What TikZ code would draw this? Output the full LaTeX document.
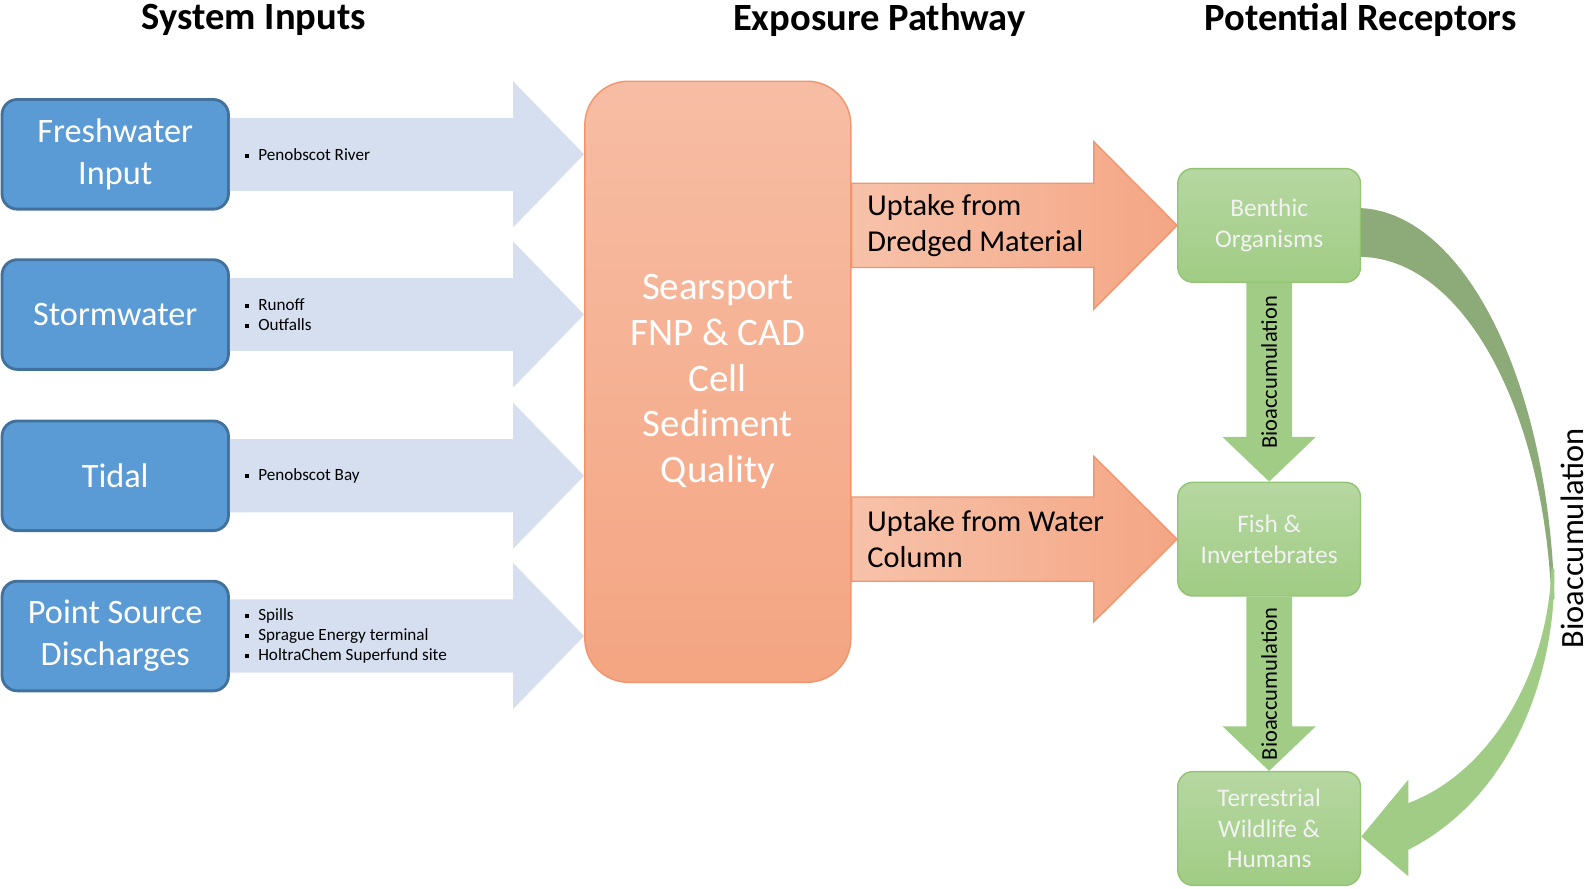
\documentclass[tikz,border=0pt]{standalone}
\usepackage{fontspec}
\setmainfont{Carlito}
\usetikzlibrary{positioning,calc}

\definecolor{inblue}{RGB}{91,155,213}
\definecolor{inedge}{RGB}{65,113,156}
\definecolor{inarrow}{RGB}{214,223,240}
\definecolor{sedtop}{RGB}{247,189,164}
\definecolor{sedbot}{RGB}{244,165,130}
\definecolor{sededge}{RGB}{240,150,110}
\definecolor{uptop}{RGB}{247,194,170}
\definecolor{upbot}{RGB}{244,166,132}
\definecolor{rectop}{RGB}{182,215,161}
\definecolor{recbot}{RGB}{160,204,132}
\definecolor{recedge}{RGB}{146,196,116}
\definecolor{bioarrow}{RGB}{160,204,134}
\definecolor{biodark}{RGB}{141,171,120}

\newcommand\inbul{\rule[0.3ex]{0.5ex}{0.5ex}\hspace{0.55em}}

% block arrow: [style]{start}{tip}{half body}{half head}{head length}
\newcommand\blockarrow[6][]{%
  \coordinate (ba-h) at ($(#3)!#6!(#2)$);
  \path[#1] ($(#2)!#4!90:(#3)$) -- ($(ba-h)!#4!90:(#3)$) -- ($(ba-h)!#5!90:(#3)$)
    -- (#3) -- ($(ba-h)!#5!-90:(#3)$) -- ($(ba-h)!#4!-90:(#3)$) -- ($(#2)!#4!-90:(#3)$) -- cycle;
}

\begin{document}
\begin{tikzpicture}[
  title/.style={font=\fontsize{10.8}{13}\selectfont\bfseries},
  inbox/.style={draw=inedge,line width=0.8pt,fill=inblue,rounded corners=0.15cm,
        minimum width=2.23cm,minimum height=1.08cm,align=center,text=white,
        font=\fontsize{9.6}{11.7}\selectfont},
  inlist/.style={inner sep=0pt,align=left,anchor=west,font=\fontsize{4.8}{5.7}\selectfont},
  inflow/.style={fill=inarrow},
  sedbox/.style={draw=sededge,line width=0.4pt,top color=sedtop,bottom color=sedbot,
        rounded corners=0.43cm,minimum width=2.62cm,minimum height=5.92cm,align=center,
        text=white,font=\fontsize{10.9}{12.8}\selectfont},
  uptake/.style={draw=sededge,line width=0.4pt,left color=uptop,right color=upbot},
  uplabel/.style={inner sep=0pt,anchor=west,align=left,font=\fontsize{8.5}{10}\selectfont},
  recbox/.style={draw=recedge,line width=0.4pt,top color=rectop,bottom color=recbot,
        rounded corners=0.15cm,minimum width=1.80cm,minimum height=1.12cm,align=center,
        text=white!95!black,font=\fontsize{7.1}{8.5}\selectfont},
  bioflow/.style={fill=bioarrow},
  biolabel/.style={rotate=90,inner sep=0pt,font=\fontsize{6.3}{7.5}\selectfont}
]
\useasboundingbox (0,0) rectangle (15.68,-8.75);

% headings
\node[title] (h-in) at (2.50,-0.20) {System Inputs};
\node[title] (h-path) at (8.66,-0.20) {Exposure Pathway};
\node[title] (h-rec) at (13.40,-0.20) {Potential Receptors};

% system inputs
\node[inbox] (fresh) at (1.135,-1.52) {Freshwater\\Input};
\node[inbox,below=0.47cm of fresh] (storm) {Stormwater};
\node[inbox,below=0.48cm of storm] (tidal) {Tidal};
\node[inbox,below=0.47cm of tidal] (point) {Point Source\\Discharges};

% exposure pathway
\node[sedbox] (sed) at (7.07,-3.76) {Searsport\\FNP \& CAD\\Cell\\Sediment\\Quality};

% receptors
\node[recbox] (benthic) at (12.50,-2.22) {Benthic\\Organisms};
\node[recbox] (fish) at (12.50,-5.31) {Fish \&\\Invertebrates};
\node[recbox] (terr) at (12.50,-8.16) {Terrestrial\\Wildlife \&\\Humans};

% input arrows
\foreach \src in {fresh,storm,tidal,point}{
  \coordinate (\src-tip) at (sed.west |- \src);
  \blockarrow[inflow]{\src.east}{\src-tip}{0.36cm}{0.72cm}{0.70cm}
}
\node[inlist,right=0.14cm of fresh] (l-fresh) {\inbul Penobscot River};
\node[inlist,right=0.14cm of storm] (l-storm) {\inbul Runoff\\\inbul Outfalls};
\node[inlist,right=0.14cm of tidal] (l-tidal) {\inbul Penobscot Bay};
\node[inlist,right=0.14cm of point] (l-point) {\inbul Spills\\\inbul Sprague Energy terminal\\\inbul HoltraChem Superfund site};

% uptake arrows
\coordinate (up1) at (sed.east |- benthic);
\coordinate (up2) at (sed.east |- fish);
\blockarrow[uptake]{up1}{benthic.west}{0.415cm}{0.825cm}{0.82cm}
\blockarrow[uptake]{up2}{fish.west}{0.415cm}{0.815cm}{0.82cm}
\node[uplabel,right=0.15cm of up1] (l-up1) {Uptake from\\Dredged Material};
\node[uplabel,right=0.15cm of up2] (l-up2) {Uptake from Water\\Column};

% bioaccumulation
\blockarrow[bioflow]{benthic.south}{fish.north}{0.225cm}{0.46cm}{0.44cm}
\blockarrow[bioflow]{fish.south}{terr.north}{0.225cm}{0.46cm}{0.44cm}
\node[biolabel] (l-bio1) at ($(benthic.south)!0.45!(fish.north)$) {Bioaccumulation};
\node[biolabel] (l-bio2) at ($(fish.south)!0.5!(terr.north)$) {Bioaccumulation};

% curved arrow benthic -> terrestrial
\fill[biodark] ($(benthic.east)+(0,0.17)$) .. controls (14.40,-2.10) and (15.25,-3.70) .. (15.31,-5.90)
  -- (15.28,-5.90) .. controls (15.20,-4.00) and (14.40,-2.55) .. ($(benthic.east)+(0,-0.31)$) -- cycle;
\fill[bioarrow] (15.28,-5.60) -- (15.31,-5.60) .. controls (15.32,-6.80) and (14.80,-7.90) .. (13.87,-8.37)
  -- (13.87,-8.63) -- ($(terr.east)+(0,-0.08)$) -- (13.87,-7.68) -- (13.87,-7.91)
  .. controls (14.70,-7.60) and (15.25,-6.60) .. (15.28,-5.60) -- cycle;
\node[biolabel,font=\fontsize{9.1}{11}\selectfont] (l-bio3) at (15.49,-5.30) {Bioaccumulation};
\end{tikzpicture}
\end{document}
